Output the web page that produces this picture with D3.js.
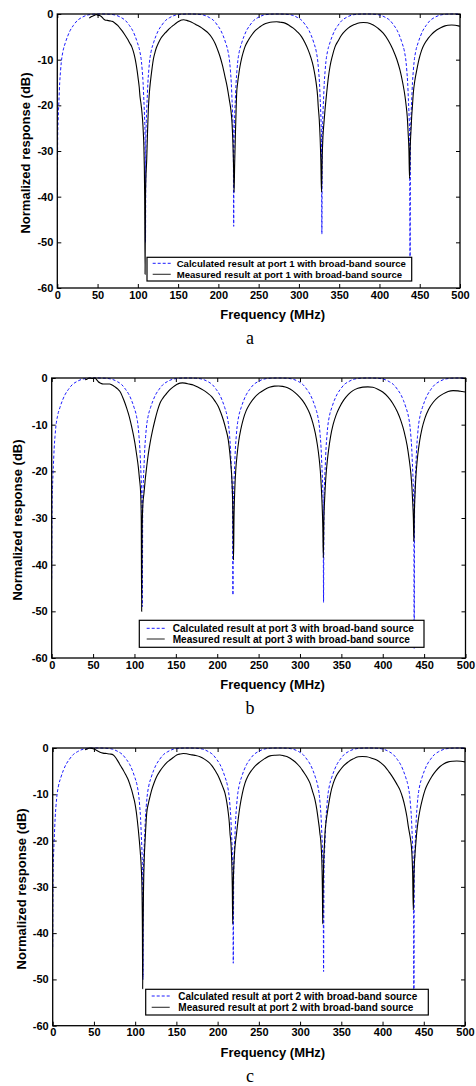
<!DOCTYPE html>
<html>
<head>
<meta charset="utf-8">
<script src="https://cdn.jsdelivr.net/npm/d3@7"></script>
<style>
  body { margin: 0; background: #fff; }
  text { font-family: "Liberation Sans", Arial, sans-serif; }
</style>
</head>
<body>
<div id="chart-area"></div>
<script>
/*
   three notch-filter responses, panels a / b / c
*/
var xTicks = [0, 50, 100, 150, 200, 250, 300, 350, 400, 450, 500];
var yTicks = [0, -10, -20, -30, -40, -50, -60];

// calculated response (same frequency grid in all panels)
var calcFreq = [0, 0.5, 1, 1.5, 2, 3, 4, 5, 7, 10, 13, 16, 20, 25, 30, 37, 45, 54.75,
  64.5, 72.5, 79.5, 84.5, 89.5, 93.5, 96.5, 99.5, 102.5, 104.5, 105.5, 106.5, 107.5, 108, 108.5, 109, 109.5,
  110, 110.5, 111, 111.5, 112.5, 113.5, 114.5, 116.5, 119.5, 122.5, 125.5, 129.5, 134.5, 139.5, 146.5, 154.5, 164.25,
  174, 182, 189, 194, 199, 203, 206, 209, 212, 214, 215, 216, 217, 217.5, 218, 218.5, 219,
  219.5, 220, 220.5, 221, 222, 223, 224, 226, 229, 232, 235, 239, 244, 249, 256, 264, 273.75,
  283.5, 291.5, 298.5, 303.5, 308.5, 312.5, 315.5, 318.5, 321.5, 323.5, 324.5, 325.5, 326.5, 327, 327.5, 328, 328.5,
  329, 329.5, 330, 330.5, 331.5, 332.5, 333.5, 335.5, 338.5, 341.5, 344.5, 348.5, 353.5, 358.5, 365.5, 373.5, 383.25,
  393, 401, 408, 413, 418, 422, 425, 428, 431, 433, 434, 435, 436, 436.5, 437, 437.5, 438,
  438.5, 439, 439.5, 440, 441, 442, 443, 445, 448, 451, 454, 458, 463, 468, 475, 483, 492.75, 500];
var calcDb = [-43, -27, -23.5, -21, -19, -15, -12.5, -10.5, -8.2, -6.3, -4.8, -3.6, -2.5, -1.4, -0.8, -0.25, -0.05, 0,
  -0.05, -0.25, -0.8, -1.4, -2.5, -3.6, -4.8, -6.3, -8.2, -10.5, -12.5, -15, -19, -21, -23.5, -27, -50,
  -27, -23.5, -21, -19, -15, -12.5, -10.5, -8.2, -6.3, -4.8, -3.6, -2.5, -1.4, -0.8, -0.25, -0.05, 0,
  -0.05, -0.25, -0.8, -1.4, -2.5, -3.6, -4.8, -6.3, -8.2, -10.5, -12.5, -15, -19, -21, -23.5, -27, -46.5,
  -27, -23.5, -21, -19, -15, -12.5, -10.5, -8.2, -6.3, -4.8, -3.6, -2.5, -1.4, -0.8, -0.25, -0.05, 0,
  -0.05, -0.25, -0.8, -1.4, -2.5, -3.6, -4.8, -6.3, -8.2, -10.5, -12.5, -15, -19, -21, -23.5, -27, -48.2,
  -27, -23.5, -21, -19, -15, -12.5, -10.5, -8.2, -6.3, -4.8, -3.6, -2.5, -1.4, -0.8, -0.25, -0.05, 0,
  -0.05, -0.25, -0.8, -1.4, -2.5, -3.6, -4.8, -6.3, -8.2, -10.5, -12.5, -15, -19, -21, -23.5, -27, -58.6,
  -27, -23.5, -21, -19, -15, -12.5, -10.5, -8.2, -6.3, -4.8, -3.6, -2.5, -1.4, -0.8, -0.25, -0.05, 0, -0.03];
var notchFreq = [0, 109.5, 219, 328.5, 438];
var notchDepthA = [-43, -50, -46.5, -48.2, -58.6];
var notchDepthB = [-43, -49, -46.5, -48.1, -58];
var notchDepthC = [-43, -50, -46.5, -48.3, -57];

// measured, port 1
var measFreqA = [39.7, 42, 44.7, 47, 48.9, 50.5, 52, 55, 57, 59.2, 62, 65.4, 68, 71.6, 75, 77.8, 81, 84, 87, 90, 92.5, 94.4, 96, 97.7, 99.2, 100.6, 101.7, 102.7, 103.8, 104.8, 105.8, 106.8, 107.5, 108, 108.5, 109, 109.5, 110, 111, 112, 113, 114, 115, 116.5, 117.8, 119.2, 121, 123, 125.4, 129, 133.7, 137, 139.9, 144, 148.2, 151, 154.5, 157, 160.7, 164, 168.9, 173, 177.2, 182, 187.5, 192, 195.8, 199, 202, 205, 208.2, 211, 213.6, 215.5, 217, 218, 218.8, 219.5, 220.2, 221.2, 222, 222.7, 224, 225.5, 226.8, 229, 231, 233, 237, 241.4, 246, 251.7, 256, 262, 267, 272.4, 277, 282.7, 288, 293, 298, 303.4, 307.5, 311.6, 315, 317.9, 320, 322, 323.2, 324, 325.2, 326.3, 327.2, 328, 328.8, 329.8, 331, 332.4, 334.4, 336.5, 338.6, 341.5, 344.8, 349, 353, 358, 363.4, 369, 375.8, 380, 385, 392.3, 398, 404.7, 411, 417, 421.5, 425.5, 428.8, 431.7, 433.3, 434.5, 435.6, 436.6, 437.3, 438, 439, 440, 441, 442, 444, 446.3, 449, 452.4, 456, 460.7, 465, 471, 476, 481.4, 485, 489.7, 494, 498, 500];
var measDbA = [-0.9, -0.6, -0.4, -0.2, -0.1, -0.3, -0.3, -0.6, -1.0, -1.3, -1.4, -1.5, -1.6, -2.0, -2.5, -3.1, -3.8, -4.6, -5.4, -6.4, -7.2, -8.2, -9.3, -10.8, -12.5, -14.4, -16, -18.1, -19.5, -21, -23, -26, -29, -33, -40, -57, -40, -36, -32, -26, -21, -18, -15.9, -13.5, -11.7, -10, -8.6, -7.4, -6.4, -5.2, -4.2, -3.6, -3.1, -2.5, -1.9, -1.6, -1.3, -1.25, -1.4, -1.6, -2.0, -2.4, -2.8, -3.4, -4.2, -5.2, -6.4, -7.8, -9.3, -11.2, -13.7, -16, -18.8, -21, -24, -28, -33, -39, -33, -26, -21, -17.4, -15, -13, -11.5, -9.6, -8.3, -7.2, -5.8, -4.6, -3.6, -2.8, -2.3, -1.9, -1.75, -1.7, -1.8, -2.0, -2.5, -3.1, -3.9, -5.0, -6.3, -7.9, -9.6, -11.5, -13.5, -15.9, -18, -20.3, -23, -27, -32, -39, -32, -27, -24, -21, -17.4, -14, -11.5, -9.2, -7.2, -5.8, -4.6, -3.6, -2.8, -2.3, -1.9, -1.85, -1.9, -2.4, -3.1, -4.2, -5.8, -7.9, -9.9, -12.3, -15, -18, -20.3, -22.5, -26, -30, -36, -30, -26, -22.5, -20, -17.4, -14.5, -12.3, -10, -7.9, -6.5, -5.3, -4.4, -3.5, -3.0, -2.6, -2.45, -2.4, -2.45, -2.6, -2.7];

// measured, port 3
var measFreqB = [40.3, 43, 46, 49, 52.3, 54, 56.3, 59, 62.3, 66, 70, 73, 76.5, 80, 82.5, 85.5, 88.6, 90.5, 92.6, 94.6, 96.6, 98.6, 100.6, 102.6, 104.6, 106, 107.5, 108.2, 108.7, 109.3, 110.2, 111.5, 113, 114.8, 116.8, 118.8, 121.8, 124.8, 127.8, 130.8, 134.8, 138.9, 142.9, 146.9, 151, 155, 158, 161, 166, 171, 177, 183.2, 188, 193.3, 197.5, 201.3, 204.5, 207.4, 210.5, 213.4, 215.2, 216.7, 217.8, 218.6, 219.2, 219.7, 220.3, 221.2, 222.5, 224, 226, 228.5, 231.5, 235, 239.5, 245, 251, 257, 263, 269, 274, 279, 285, 291, 297, 303, 308, 312, 315.5, 318.5, 321, 323, 324.6, 325.8, 326.8, 327.6, 328.2, 328.8, 329.8, 331, 332.6, 334.5, 337, 340, 343.5, 348, 353, 358.5, 364, 370, 376, 382, 388, 394, 400, 406, 412, 417.5, 422, 426, 429.5, 432, 434, 435.3, 436.3, 437, 437.6, 438.2, 439.2, 440.5, 442.3, 444.6, 447.5, 451, 455.5, 461, 467, 473, 479, 485, 491, 496, 500];
var measDbB = [-0.4, -0.2, 0, -0.1, 0, -0.3, -0.8, -1.1, -1.3, -1.3, -1.3, -1.5, -1.9, -2.4, -2.9, -4.0, -5.4, -6.4, -7.6, -8.9, -10.4, -12.1, -14, -16.4, -19, -21.5, -24.7, -30, -50, -32, -27, -24.7, -21.8, -19, -16.2, -14, -11.3, -9, -7, -5.4, -4.2, -3.3, -2.5, -1.9, -1.4, -1.1, -1.05, -1.1, -1.3, -1.5, -2.0, -2.6, -3.2, -4.0, -5.0, -6.1, -7.5, -9, -11, -13.3, -16, -19, -22, -26, -32, -39, -30, -24, -19.5, -16.5, -13.5, -11, -8.8, -7, -5.5, -4.2, -3.2, -2.5, -2.0, -1.75, -1.7, -1.8, -2.1, -2.7, -3.6, -4.8, -6.2, -7.7, -9.6, -11.8, -14.3, -17, -20, -23.5, -27.5, -32, -38.5, -31, -26, -22, -18.5, -15.5, -12.5, -10, -8, -6.2, -4.7, -3.5, -2.7, -2.2, -1.95, -1.9, -2.0, -2.4, -3.0, -4.0, -5.4, -7.2, -9.2, -11.6, -14.5, -17.5, -20.5, -23.5, -27, -30, -35, -29, -24, -20, -16.5, -13.5, -10.8, -8.6, -6.7, -5.2, -4.1, -3.4, -2.9, -2.7, -2.75, -2.9, -3.0];

// measured, port 2
var measFreqC = [39.2, 42, 45, 48, 51.3, 54, 57.4, 61, 65.5, 69.5, 73.5, 76.5, 79.6, 82.5, 85.6, 88.6, 91.7, 93.8, 95.8, 97.8, 99.8, 101.3, 102.6, 103.8, 105, 106.2, 107.3, 108.2, 108.8, 109.1, 109.5, 110.2, 111, 112.2, 114, 116, 118, 120, 123, 126, 130, 134.1, 138, 142.2, 146.5, 150.4, 154.5, 158.4, 162.5, 166.5, 172.5, 178.6, 184, 188.7, 193, 196.8, 200, 202.9, 206, 209, 211.2, 213, 214.2, 215, 216.3, 217.2, 217.8, 218.3, 218.9, 219.8, 221, 223, 225, 227, 230, 233.2, 237, 241.3, 246, 251.4, 257, 263.5, 270, 275.6, 280.5, 285.7, 291, 295.9, 300, 303.9, 308, 312, 315, 318.1, 320.3, 322.1, 323.3, 324, 324.8, 325.8, 326.6, 327.1, 327.4, 327.9, 328.7, 329.5, 330.2, 331.5, 334.2, 337, 340.3, 344, 348.4, 353, 358.5, 364, 370.6, 375.5, 380.7, 387, 392.9, 398, 403, 408, 413, 417, 421.2, 424.5, 427.2, 429.5, 431.3, 432.8, 434.1, 435.5, 436.5, 437.3, 438, 439.3, 440.4, 441.4, 443.2, 445.4, 448.3, 451.5, 455.5, 459.6, 464.5, 469.7, 474.5, 479.8, 485, 490, 495, 500];
var measDbC = [-0.4, -0.2, 0, -0.1, -0.3, -0.6, -0.9, -1.1, -1.2, -1.3, -1.5, -2.1, -3.0, -3.9, -4.8, -5.8, -6.9, -8.0, -9.1, -10.5, -12, -13.7, -15.6, -17.6, -19.9, -22.5, -25.5, -30, -40, -52, -40, -30, -24, -19.5, -14.1, -12, -10.5, -9.1, -7.5, -6.2, -5, -4, -3.2, -2.6, -2.0, -1.5, -1.3, -1.2, -1.25, -1.4, -1.6, -1.9, -2.4, -3.0, -3.8, -4.8, -5.8, -6.9, -8.3, -9.8, -11.8, -14.1, -16.2, -18.4, -21, -25, -30, -38, -30, -25, -21.5, -18.4, -15.3, -12.7, -9.8, -7.6, -6.0, -4.8, -3.8, -3.0, -2.3, -1.7, -1.55, -1.5, -1.7, -2.0, -2.6, -3.3, -4.1, -5.1, -6.2, -7.6, -9.3, -11.2, -13.3, -15.6, -17.2, -18.4, -19.5, -22, -26, -31, -38, -31, -24, -21, -18.4, -16, -12.7, -9.8, -7.6, -6.0, -4.8, -3.8, -3.0, -2.4, -1.9, -1.85, -1.9, -2.2, -2.6, -3.2, -4, -5.2, -6.5, -7.7, -9.1, -10.8, -12.7, -14.8, -17, -18.5, -19.9, -22.5, -27, -35, -28, -23, -20.5, -18.4, -15.7, -13.4, -11.1, -9.1, -7.5, -6.2, -5, -4, -3.4, -3.0, -2.85, -2.8, -2.85, -3.0];

var svg = d3.select("#chart-area").append("svg")
	.attr("width", 476)
	.attr("height", 1086);

var panels = [
	{id: "a", port: 1, left: 57.3, right: 460, top: 14, bottom: 288, ylab: 29.5,
	 mf: measFreqA, md: measDbA, depth: notchDepthA,
	 leg: {x: 147, y: 257.3, w: 264.7, h: 23.7, fs: 9.6, r1: 263.3, r2: 274.3, lx: 152.7, tx: 176.7}},
	{id: "b", port: 3, left: 51.7, right: 465.5, top: 378, bottom: 658, ylab: 22,
	 mf: measFreqB, md: measDbB, depth: notchDepthB,
	 leg: {x: 139.3, y: 620.3, w: 284.7, h: 27, fs: 10.1, r1: 628.3, r2: 639, lx: 146.7, tx: 172.7}},
	{id: "c", port: 2, left: 52.7, right: 465, top: 748, bottom: 1025.7, ylab: 26,
	 mf: measFreqC, md: measDbC, depth: notchDepthC,
	 leg: {x: 145.7, y: 989.3, w: 282.6, h: 25.7, fs: 10, r1: 996, r2: 1007.3, lx: 151.7, tx: 178.3}}
];

panels.forEach(function(p) {
	var x = d3.scaleLinear().domain([0, 500]).range([p.left, p.right]);
	var y = d3.scaleLinear().domain([-60, 0]).range([p.bottom, p.top]);
	var g = svg.append("g");

	svg.append("clipPath").attr("id", "clip-" + p.id)
		.append("rect").attr("x", p.left).attr("y", p.top - 1)
		.attr("width", p.right - p.left).attr("height", p.bottom - p.top + 1);

	// axes, ticks pointing inwards like matlab
	g.append("g").attr("transform", "translate(0," + p.bottom + ")")
		.call(d3.axisBottom(x).tickValues(xTicks).tickSize(-4).tickPadding(3).tickFormat(function(d) { return String(d); }));
	g.append("g").attr("transform", "translate(" + p.left + ",0)")
		.call(d3.axisLeft(y).tickValues(yTicks).tickSize(-4).tickPadding(4).tickFormat(function(d) { return String(d); }));
	g.append("g").attr("transform", "translate(0," + p.top + ")")
		.call(d3.axisTop(x).tickValues(xTicks).tickSize(-4).tickFormat(""));
	g.append("g").attr("transform", "translate(" + p.right + ",0)")
		.call(d3.axisRight(y).tickValues(yTicks).tickSize(-4).tickFormat(""));
	g.selectAll(".domain").remove();
	g.selectAll(".tick line").attr("stroke", "#000").attr("stroke-width", 1);
	g.selectAll(".tick text").attr("fill", "#000")
		.style("font-family", "'Liberation Sans', Arial, sans-serif")
		.style("font-size", "11px").style("font-weight", "bold");

	// calculated (blue dashed), notch depths per panel
	var calc = calcFreq.map(function(f, i) {
		var k = notchFreq.indexOf(f);
		return [f, k >= 0 ? p.depth[k] : calcDb[i]];
	});
	var meas = p.mf.map(function(f, i) { return [f, p.md[i]]; });

	var line = d3.line()
		.x(function(d) { return x(d[0]); })
		.y(function(d) { return y(d[1]); })
		.curve(d3.curveMonotoneX);

	var plot = g.append("g").attr("clip-path", "url(#clip-" + p.id + ")");
	plot.append("path").attr("d", line(calc))
		.attr("fill", "none").attr("stroke", "#1a1aff").attr("stroke-width", 1)
		.attr("stroke-dasharray", "3,2");
	plot.append("path").attr("d", line(meas))
		.attr("fill", "none").attr("stroke", "#000").attr("stroke-width", 1.1);

	// box
	g.append("rect").attr("x", p.left).attr("y", p.top)
		.attr("width", p.right - p.left).attr("height", p.bottom - p.top)
		.attr("fill", "none").attr("stroke", "#000").attr("stroke-width", 1.3);

	// legend
	var L = p.leg;
	var lg = g.append("g");
	lg.append("rect").attr("x", L.x).attr("y", L.y).attr("width", L.w).attr("height", L.h)
		.attr("fill", "#fff").attr("stroke", "#000").attr("stroke-width", 1.2);
	lg.append("line").attr("x1", L.lx).attr("x2", L.lx + 18).attr("y1", L.r1).attr("y2", L.r1)
		.attr("stroke", "#1a1aff").attr("stroke-width", 1).attr("stroke-dasharray", "3,2");
	lg.append("line").attr("x1", L.lx).attr("x2", L.lx + 18).attr("y1", L.r2).attr("y2", L.r2)
		.attr("stroke", "#333").attr("stroke-width", 1.1);
	lg.append("text").attr("x", L.tx).attr("y", L.r1).attr("dy", "0.36em")
		.style("font-size", L.fs + "px").style("font-weight", "bold")
		.text("Calculated result at port " + p.port + " with broad-band source");
	lg.append("text").attr("x", L.tx).attr("y", L.r2).attr("dy", "0.36em")
		.style("font-size", L.fs + "px").style("font-weight", "bold")
		.text("Measured result at port " + p.port + " with broad-band source");

	// axis titles
	g.append("text").attr("x", (p.left + p.right) / 2 + 14).attr("y", p.bottom + 31)
		.attr("text-anchor", "middle").style("font-size", "13px").style("font-weight", "bold")
		.text("Frequency (MHz)");
	g.append("text").attr("transform", "translate(" + p.ylab + "," + ((p.top + p.bottom) / 2 + 2) + ") rotate(-90)")
		.attr("text-anchor", "middle").style("font-size", "13px").style("font-weight", "bold")
		.text("Normalized response (dB)");

	// panel letter
	g.append("text").attr("x", 250).attr("y", p.bottom + 56)
		.attr("text-anchor", "middle")
		.style("font-family", "'Liberation Serif', 'Times New Roman', serif").style("font-size", "18px")
		.text(p.id);
});
</script>
</body>
</html>
